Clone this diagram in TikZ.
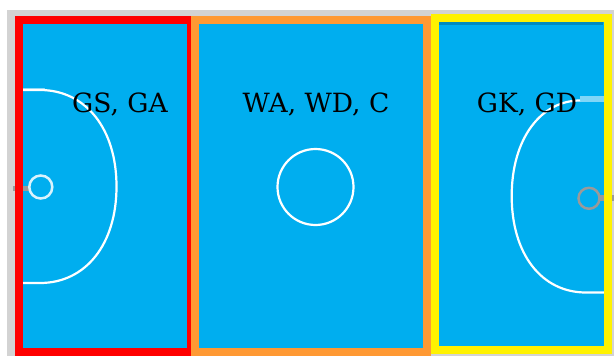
\documentclass[tikz,border=0pt]{standalone}
\usepackage{fontspec}
\setmainfont{DejaVu Serif}
\usepackage{tikz}
\definecolor{courtblue}{HTML}{00AEEF}
\definecolor{zoneorange}{HTML}{FF9933}
\definecolor{surround}{HTML}{D3D3D3}
\definecolor{goalgray}{HTML}{9A9A9A}

\begin{document}
\begin{tikzpicture}[
            x=1pt,y=-1pt,
            court/.style={fill=courtblue,draw=none},
            zone/.style={draw,line width=8pt,fill=none},
            courtline/.style={draw=white,line width=2.2pt,fill=none},
            paleline/.style={draw=white!50!courtblue,fill=none},
            goal/.style={draw=goalgray,line width=2.5pt},
            lab/.style={font=\fontsize{26.5}{26.5}\selectfont,inner sep=0pt,anchor=base}
        ]
        \useasboundingbox (0,0) rectangle (614,356);
        \fill[surround] (7,10) rectangle (614,356);
        % thirds of the court
        \fill[court] (19,20) rectangle (195,352);
        \fill[court] (195,20) rectangle (427,352);
        \fill[court] (435,18) rectangle (607,350);
        \fill[black!20!courtblue] (439,22) rectangle (603,25);
        % goal posts
        \draw[goal,line width=5pt] (13,188.5) -- (29,188.5);
        \draw[goal,line width=6pt] (600,198) -- (614,198);
        % circles and goal arcs
        \draw[paleline,line width=3.5pt] (20,89.5) -- (45,89.5);
        \draw[paleline,line width=6pt] (580,99) -- (606,99);
        \draw[courtline] (20,90) -- (40,90) .. controls (85.6,90) and (116.5,128.6) .. (116.5,186.5)
            .. controls (116.5,244.4) and (85.6,283) .. (40,283) -- (20,283);
        \draw[courtline] (580,100.5) .. controls (541.4,100.5) and (511.7,138.1) .. (511.7,196)
            .. controls (511.7,253.9) and (541.4,292.5) .. (586,292.5) -- (606,292.5);
        \draw[courtline,draw=white!85!courtblue,line width=2.5pt] (40.8,187) circle[radius=11.5pt];
        \draw[goal] (589,198.3) circle[radius=10.5pt];
        \draw[courtline] (315.5,187) circle[radius=38pt];
        % zones
        \draw[zone,red] (19,20) rectangle (191,352);
        \draw[zone,zoneorange] (195,20) rectangle (427,352);
        \draw[zone,yellow] (435,18) rectangle (607.7,350);
        % positions
        \node[lab] (attack) at (120,112) {GS, GA};
        \node[lab] (centre) at (316,112) {WA, WD, C};
        \node[lab] (defence) at (527,112) {GK, GD};
        \end{tikzpicture}
\end{document}
